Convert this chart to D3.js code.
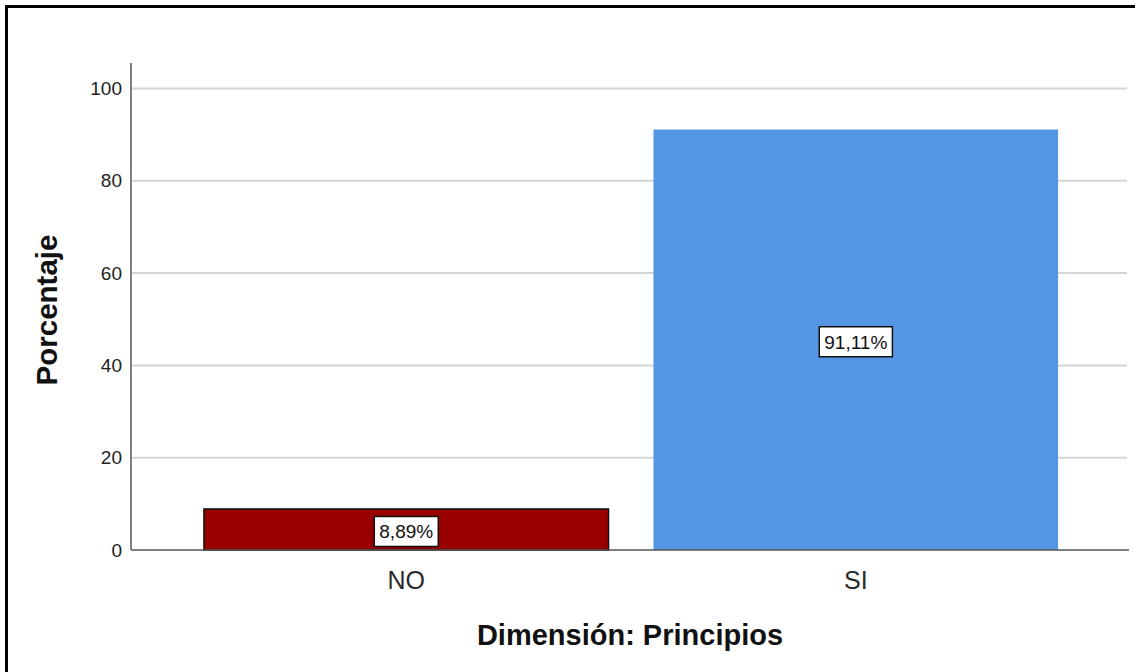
<!DOCTYPE html>
<html>
<head>
<meta charset="utf-8">
<script src="https://cdn.jsdelivr.net/npm/d3@7/dist/d3.min.js"></script>
<style>
  html, body { margin: 0; padding: 0; background: #fff; }
  svg { display: block; font-family: "Liberation Sans", Arial, sans-serif; }
</style>
</head>
<body>
<svg id="chart" width="1135" height="672"></svg>
<script>
const categories = ["NO", "SI"];
const values = [8.89, 91.11];
const valueLabels = ["8,89%", "91,11%"];
const barColors = ["#990000", "#5596E4"];
const yTicks = [0, 20, 40, 60, 80, 100];
const xTitle = "Dimensión: Principios";
const yTitle = "Porcentaje";

const svg = d3.select("#chart");

// outer frame
svg.append("rect")
  .attr("x", 6.5).attr("y", 6.5)
  .attr("width", 1200).attr("height", 800)
  .attr("fill", "none").attr("stroke", "#000").attr("stroke-width", 3);

const x0 = 131, x1 = 1129;
const y = d3.scaleLinear().domain([0, 100]).range([550, 88.5]);
const x = d3.scaleBand().domain(categories).range([x0 + 1, x1 + 1])
  .paddingInner(0.1).paddingOuter(0.16);

// gridlines
svg.append("g").selectAll("line")
  .data(yTicks.filter(d => d > 0))
  .join("line")
  .attr("x1", x0 + 1).attr("x2", 1127)
  .attr("y1", d => y(d)).attr("y2", d => y(d))
  .attr("stroke", "#d4d4d4").attr("stroke-width", 2);

// y axis via d3 axis
const yAxis = d3.axisLeft(y).tickValues(yTicks).tickSize(0).tickPadding(9);
const gy = svg.append("g").attr("transform", `translate(${x0},0)`).call(yAxis);
gy.select(".domain").remove();
gy.selectAll("text")
  .attr("font-size", 19)
  .attr("fill", "#222")
  .attr("font-family", "Liberation Sans, Arial, sans-serif");

// y axis line
svg.append("line")
  .attr("x1", x0).attr("x2", x0)
  .attr("y1", 63).attr("y2", y(0))
  .attr("stroke", "#555").attr("stroke-width", 1.5);

// bars
svg.append("g").selectAll("rect")
  .data(categories)
  .join("rect")
  .attr("x", d => x(d))
  .attr("width", x.bandwidth())
  .attr("y", (d, i) => y(values[i]))
  .attr("height", (d, i) => y(0) - y(values[i]))
  .attr("fill", (d, i) => barColors[i])
  .attr("stroke", (d, i) => i === 0 ? "#111" : "none")
  .attr("stroke-width", 1.5);

// x axis line
svg.append("line")
  .attr("x1", x0).attr("x2", x1)
  .attr("y1", y(0)).attr("y2", y(0))
  .attr("stroke", "#555").attr("stroke-width", 1.5);

// x axis via d3 axis for category labels
const xAxis = d3.axisBottom(x).tickSize(0).tickPadding(0);
const gx = svg.append("g").attr("transform", `translate(0,${y(0)})`).call(xAxis);
gx.select(".domain").remove();
gx.selectAll("text")
  .attr("font-size", 25)
  .attr("fill", "#2a2a2a")
  .attr("dy", null)
  .attr("y", 39)
  .attr("font-family", "Liberation Sans, Arial, sans-serif");

// value labels
const lbl = svg.append("g").selectAll("g")
  .data(categories)
  .join("g")
  .attr("transform", (d, i) => {
    const cx = x(d) + x.bandwidth() / 2;
    const cy = (y(values[i]) + y(0)) / 2 + 2;
    return `translate(${cx},${cy})`;
  });
lbl.each(function(d, i) {
  const g = d3.select(this);
  const t = g.append("text")
    .attr("text-anchor", "middle")
    .attr("y", 7)
    .attr("font-size", 19)
    .attr("fill", "#111")
    .text(valueLabels[i]);
  const bb = t.node().getBBox();
  g.insert("rect", "text")
    .attr("x", bb.x - 5).attr("width", bb.width + 10)
    .attr("y", -15).attr("height", 30)
    .attr("fill", "#fff").attr("stroke", "#111").attr("stroke-width", 1.5);
});

// axis titles
svg.append("text")
  .attr("x", (x0 + x1) / 2).attr("y", 645)
  .attr("text-anchor", "middle")
  .attr("font-size", 29).attr("font-weight", "bold").attr("fill", "#111")
  .text(xTitle);

svg.append("text")
  .attr("transform", "translate(57,310) rotate(-90)")
  .attr("text-anchor", "middle")
  .attr("font-size", 29.5).attr("font-weight", "bold").attr("fill", "#111")
  .text(yTitle);
</script>
</body>
</html>
